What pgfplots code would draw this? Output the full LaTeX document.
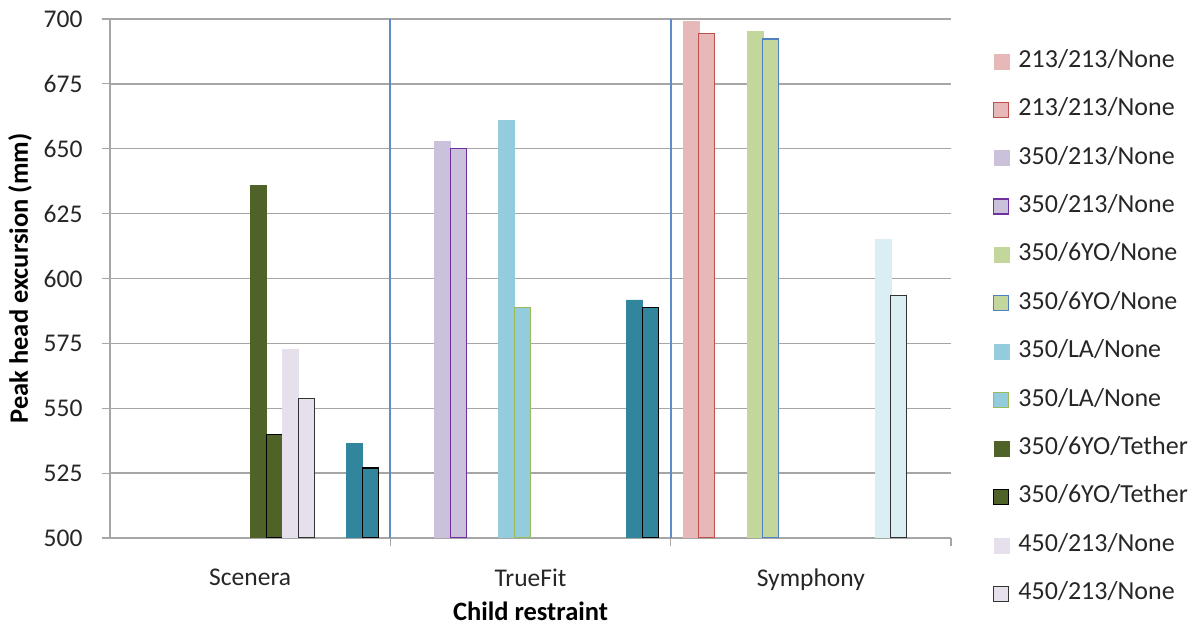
\documentclass[border=0pt]{standalone}
\usepackage{pgfplots}
\pgfplotsset{compat=1.18}
\usepackage{fontspec}
\setmainfont{Carlito}
\definecolor{pinkF}{HTML}{E6B9B8}
\definecolor{redE}{HTML}{C0504D}
\definecolor{lavF}{HTML}{CCC1DA}
\definecolor{purpE}{HTML}{7030A0}
\definecolor{lgreenF}{HTML}{C3D69B}
\definecolor{blueE}{HTML}{4F81BD}
\definecolor{lblueF}{HTML}{93CDDD}
\definecolor{oliveE}{HTML}{9BBB59}
\definecolor{dgreenF}{HTML}{4F6228}
\definecolor{llavF}{HTML}{E6E0EC}
\definecolor{lcyanF}{HTML}{DBEEF4}
\definecolor{tealF}{HTML}{31859C}
\definecolor{gridG}{HTML}{A6A6A6}
\definecolor{sepB}{HTML}{5B8CCB}
\begin{document}
\begin{tikzpicture}[x=1pt,y=1pt]
\path[use as bounding box] (0,0) rectangle (1200,626);
\begin{axis}[
  at={(110pt,88pt)}, anchor=south west,
  scale only axis, width=841pt, height=519pt,
  xmin=-0.5, xmax=2.5, ymin=500, ymax=700,
  ybar=0pt, bar width=16pt,
  axis x line*=bottom, axis y line*=left,
  axis line style={gridG, line width=1.3pt},
  ytick={500,525,...,700},
  ymajorgrids, major grid style={gridG, line width=1.3pt},
  /pgf/number format/assume math mode=true,
  tick align=outside, major tick length=8pt, minor tick length=8pt,
  tick style={gridG, line width=1.2pt},
  xtick={0,1,2}, xticklabels={Scenera,TrueFit,Symphony},
  minor xtick={0.5,1.5,2.5},
  major x tick style={draw=none},
  ticklabel style={font=\fontsize{25.5}{30}\selectfont, text=black!85},
  yticklabel style={xshift=-16pt},
  xticklabel style={yshift=-19pt},
  xlabel={Child restraint}, ylabel={Peak head excursion (mm)},
  label style={font=\fontsize{26.5}{30}\bfseries},
  xlabel style={yshift=-5pt},
  ylabel style={yshift=5pt, xshift=0pt},
  legend style={draw=none, fill=none, at={(1.05,0.942)}, anchor=north west,
    font=\fontsize{26}{30}\selectfont, inner sep=0pt, row sep=24.4pt,
    nodes={inner sep=0pt, text height=18pt, text depth=6pt, text=black!85},
    /tikz/every odd column/.append style={column sep=9pt}},
  legend cell align=left,
  legend image code/.code={\draw[#1] (0pt,-7.5pt) rectangle (15pt,7.5pt);},
]
\addplot[fill=pinkF, draw=pinkF] coordinates {(2,699.3)};
\addlegendentry{213/213/None}
\addplot[fill=pinkF, draw=redE, line width=1.2pt] coordinates {(2,694.3)};
\addlegendentry{213/213/None}
\addplot[fill=lavF, draw=lavF] coordinates {(1,653.1)};
\addlegendentry{350/213/None}
\addplot[fill=lavF, draw=purpE, line width=1.2pt] coordinates {(1,650.0)};
\addlegendentry{350/213/None}
\addplot[fill=lgreenF, draw=lgreenF] coordinates {(2,695.3)};
\addlegendentry{350/6YO/None}
\addplot[fill=lgreenF, draw=blueE, line width=1.2pt] coordinates {(2,692.3)};
\addlegendentry{350/6YO/None}
\addplot[fill=lblueF, draw=lblueF] coordinates {(1,660.9)};
\addlegendentry{350/LA/None}
\addplot[fill=lblueF, draw=oliveE, line width=1.2pt] coordinates {(1,588.8)};
\addlegendentry{350/LA/None}
\addplot[fill=dgreenF, draw=dgreenF] coordinates {(0,635.9)};
\addlegendentry{350/6YO/Tether}
\addplot[fill=dgreenF, draw=black, line width=1.2pt] coordinates {(0,539.8)};
\addlegendentry{350/6YO/Tether}
\addplot[fill=llavF, draw=llavF] coordinates {(0,572.6)};
\addlegendentry{450/213/None}
\addplot[fill=llavF, draw=black!80, line width=1.2pt] coordinates {(0,553.7)};
\addlegendentry{450/213/None}
\addplot[fill=lcyanF, draw=lcyanF] coordinates {(2,615.1)};
\addplot[fill=lcyanF, draw=black!80, line width=1.2pt] coordinates {(2,593.5)};
\addplot[fill=tealF, draw=tealF] coordinates {(0,536.6) (1,591.8)};
\addplot[fill=tealF, draw=black, line width=1.2pt] coordinates {(0,527.0) (1,588.8)};
\draw[sepB, line width=2.2pt] (axis cs:0.5,500) -- (axis cs:0.5,700);
\draw[sepB, line width=2.2pt] (axis cs:1.5,500) -- (axis cs:1.5,700);
\end{axis}
\end{tikzpicture}
\end{document}
